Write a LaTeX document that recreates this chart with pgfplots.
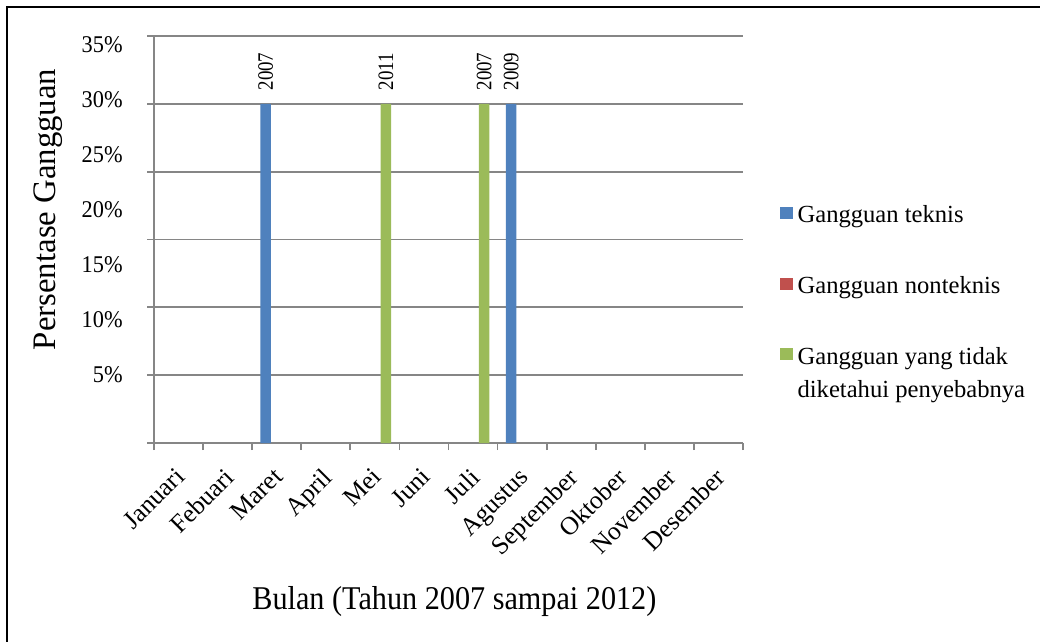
\documentclass[border=0pt]{standalone}
\usepackage{fontspec}
\setmainfont{Liberation Serif}
\newfontfamily\xlfont[FakeStretch=0.91]{Liberation Serif}
\newfontfamily\yrfont[FakeStretch=0.86]{Liberation Serif}
\newfontfamily\ytfont[FakeStretch=0.93]{Liberation Serif}
\usepackage{pgfplots}
\pgfplotsset{compat=1.18}
\definecolor{gridgray}{RGB}{134,134,134}
\definecolor{cblue}{RGB}{79,129,189}
\definecolor{cred}{RGB}{192,80,77}
\definecolor{cgreen}{RGB}{155,187,89}
\begin{document}
\begin{tikzpicture}
\useasboundingbox (0,0) rectangle (520pt,-321pt);
\draw[line width=1.3pt] (3.5pt,-330pt) -- (3.5pt,-3.5pt) -- (530pt,-3.5pt);
\begin{axis}[
  at={(77pt,-221.5pt)}, anchor=south west,
  scale only axis, width=294.5pt, height=203.5pt,
  xmin=-0.5, xmax=11.5, ymin=0, ymax=36,
  axis x line*=bottom, axis y line*=left,
  axis line style={gridgray, line width=0.9pt, -},
  /pgf/number format/assume math mode=true,
  xtick={0,...,11},
  xticklabels={Januari,Febuari,Maret,April,Mei,Juni,Juli,Agustus,September,Oktober,November,Desember},
  minor xtick={-0.5,0.5,...,11.5},
  ytick={6.02,10.88,15.75,20.62,25.49,30.35,35.22},
  yticklabels={5\%,10\%,15\%,20\%,25\%,30\%,35\%},
  minor ytick={0,6,12,18,24,30,36},
  yminorgrids=true, ymajorgrids=false, xmajorgrids=false,
  minor grid style={gridgray, line width=0.9pt},
  major tick length=0pt, minor tick length=3.5pt,
  tick align=outside,
  minor tick style={gridgray, line width=0.9pt},
  major tick style={draw=none},
  xticklabel style={font=\fontsize{12.8}{14}\selectfont, xshift=-2.25pt, yshift=-11.5pt, rotate=45, anchor=north east, inner sep=0pt},
  yticklabel style={font=\ytfont\fontsize{12}{14}\selectfont, anchor=east, inner sep=0pt, xshift=-15.5pt},
  xlabel={Bulan (Tahun 2007 sampai 2012)},
  xlabel style={at={(axis description cs:0.51,-0.408)}, anchor=base, font=\xlfont\fontsize{16.6}{19}\selectfont, inner sep=0pt},
  ylabel={Persentase Gangguan},
  ylabel style={at={(axis description cs:-0.168,0.574)}, anchor=base, font=\fontsize{16.4}{19}\selectfont, inner sep=0pt},
  point meta=explicit symbolic,
  nodes near coords={\rotatebox{90}{\pgfplotspointmeta}},
  every node near coord/.append style={font=\yrfont\fontsize{11}{13}\selectfont, anchor=south, inner sep=0pt, yshift=6.5pt, text=black},
  legend style={at={(axis description cs:1.0628,0.5799)}, anchor=north west, draw=none, fill=none, inner sep=0pt, outer sep=0pt, row sep=24.3pt, column sep=2.5pt, font=\fontsize{12.3}{14.8}\selectfont, nodes={inner sep=0pt, text height=8pt, text depth=3pt}},
  legend cell align=left,
  legend image code/.code={\fill[#1] (0pt,-0.5pt) rectangle (6.3pt,5.5pt);},
]
\addplot[ybar, bar width=5.25pt, bar shift=-5.5pt, fill=cblue, draw=none,
  every node near coord/.append style={xshift=-5.5pt}] coordinates {(2,30) [2007] (7,30) [2009]};
\addlegendentry{Gangguan teknis}
\addlegendimage{fill=cred, draw=none}
\addlegendentry{Gangguan nonteknis}
\addplot[ybar, bar width=5.25pt, bar shift=5.5pt, fill=cgreen, draw=none,
  every node near coord/.append style={xshift=5.5pt}] coordinates {(4,30) [2011] (6,30) [2007]};
\addlegendentry{\begin{tabular}[t]{@{}l@{}}Gangguan yang tidak\\[2pt]diketahui penyebabnya\end{tabular}}
\end{axis}
\end{tikzpicture}
\end{document}
